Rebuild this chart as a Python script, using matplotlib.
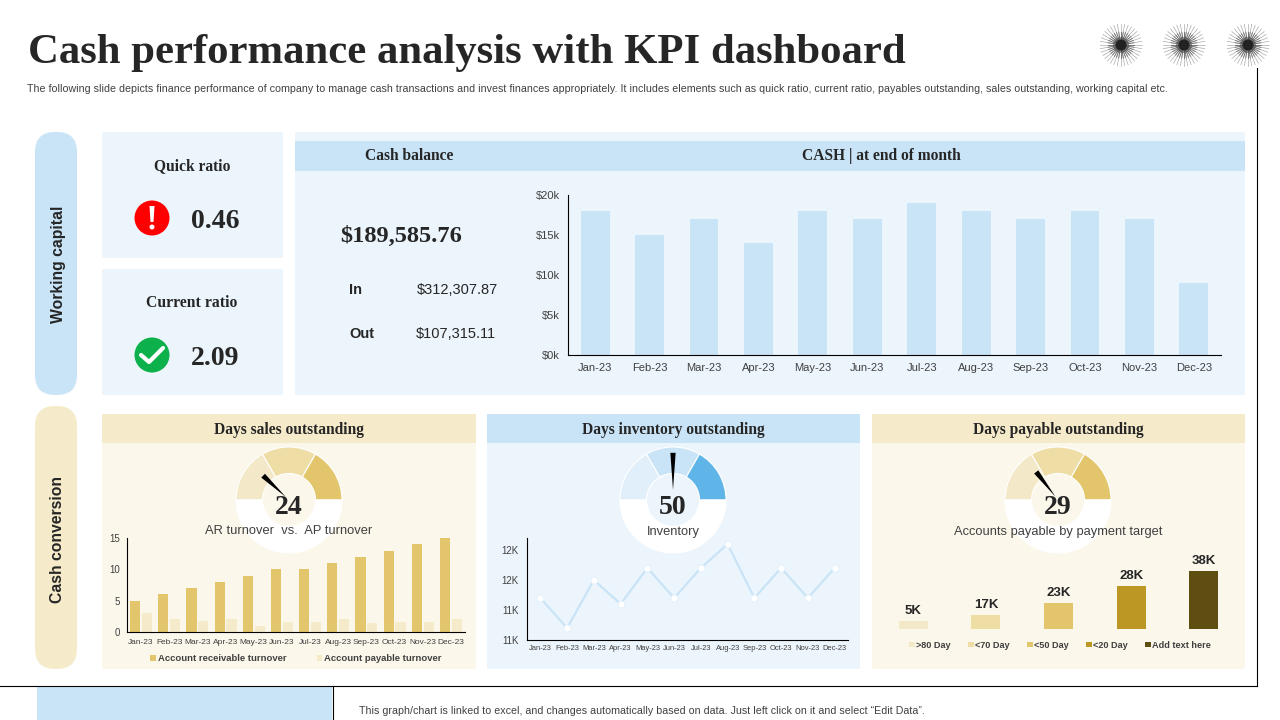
import numpy as np
import matplotlib
matplotlib.use("Agg")
from matplotlib import pyplot as plt
from matplotlib.patches import FancyBboxPatch, Rectangle, Circle, Polygon

SERIF = "Liberation Serif"
SANS = "Liberation Sans"
plt.rcParams["font.family"] = SANS

# data
months = ["Jan-23", "Feb-23", "Mar-23", "Apr-23", "May-23", "Jun-23",
          "Jul-23", "Aug-23", "Sep-23", "Oct-23", "Nov-23", "Dec-23"]
cash_end_month = [18, 15, 17, 14, 18, 17, 19, 18, 17, 18, 17, 9]
cash_ticks = [0, 5, 10, 15, 20]
cash_tick_labels = ["$0k", "$5k", "$10k", "$15k", "$20k"]
ar_turnover = [5, 6, 7, 8, 9, 10, 10, 11, 12, 13, 14, 15]
ap_turnover = [3, 2, 1.8, 2, 1, 1.6, 1.6, 2, 1.4, 1.6, 1.6, 2]
inventory = [11.2, 10.7, 11.5, 11.1, 11.7, 11.2, 11.7, 12.1, 11.2, 11.7, 11.2, 11.7]
inventory_ticks = [10.5, 11, 11.5, 12]
inventory_tick_labels = ["11K", "11K", "12K", "12K"]
payment_targets = [">80 Day", "<70 Day", "<50 Day", "<20 Day", "Add text here"]
payment_heights = [5, 9, 17, 28, 38]
payment_labels = ["5K", "17K", "23K", "28K", "38K"]
gauge_values = [24, 50, 29]
gauge_shares = [1, 1, 1, 3]

# colours
BLUE_PANEL = "#ECF5FC"
BLUE_HEAD = "#C9E4F7"
CREAM_PANEL = "#FCF7EB"
CREAM_HEAD = "#F5EBCB"
GOLD = "#E3C56C"
INK = "#262626"
payment_colors = ["#F3E9C8", "#EFDDA6", "#E3C56C", "#BC9724", "#5F4E12"]

fig = plt.figure(figsize=(12.8, 7.2), dpi=100, facecolor="white")


def px_axes(x0, y0, x1, y1, z=1):
    # axes from pixel box, y counted from the top
    ax = fig.add_axes([x0 / 1280, 1 - y1 / 720, (x1 - x0) / 1280, (y1 - y0) / 720], zorder=z)
    ax.patch.set_alpha(0)
    return ax


def label(x, y, s, size, family=SANS, weight="normal", color=INK, ha="center", rotation=0):
    fig.text(x / 1280, 1 - (y + 1.5) / 720, s, fontsize=size, family=family, weight=weight,
             color=color, ha=ha, va="center", rotation=rotation, zorder=10)


bg = px_axes(0, 0, 1280, 720, z=0)
bg.set_xlim(0, 1280)
bg.set_ylim(720, 0)
bg.axis("off")


def box(x0, y0, x1, y1, color, rounding=2):
    bg.add_patch(FancyBboxPatch((x0 + rounding, y0 + rounding), x1 - x0 - 2 * rounding, y1 - y0 - 2 * rounding,
                                boxstyle=f"round,pad={rounding},rounding_size={rounding}",
                                fc=color, ec="none"))


# title
label(28, 52, "Cash performance analysis with KPI dashboard", 30.8, SERIF, "bold", ha="left")
label(27, 87, "The following slide depicts finance performance of company to manage cash transactions and invest "
      "finances appropriately. It includes elements such as quick ratio, current ratio, payables outstanding, "
      "sales outstanding, working capital etc.", 7.65, color="#404040", ha="left")

# bursts top right
for cx in [1121, 1184, 1248]:
    for a in np.linspace(0, 2 * np.pi, 36, endpoint=False):
        c, s = np.cos(a), np.sin(a)
        bg.plot([cx + 4 * c, cx + 21 * c], [45 + 4 * s, 45 + 21 * s], color="#666666", lw=0.5, alpha=0.55)
        bg.plot([cx + 4 * c, cx + 13 * c], [45 + 4 * s, 45 + 13 * s], color="#444444", lw=0.7, alpha=0.6)
    bg.add_patch(Circle((cx, 45), 8, fc="#444444", ec="none", alpha=0.5, zorder=3))
    bg.add_patch(Circle((cx, 45), 5.5, fc="#222222", ec="none", zorder=3))

# page lines and footer
bg.plot([1257, 1257], [68, 686], color="black", lw=0.8)
bg.plot([0, 1257], [686, 686], color="black", lw=0.8)
bg.add_patch(Rectangle((37, 686), 295, 34, fc=BLUE_HEAD, ec="none"))
bg.plot([332.5, 332.5], [686, 720], color="black", lw=0.8)
label(359, 709, "This graph/chart is linked to excel, and changes automatically based on data. "
      "Just left click on it and select \u201cEdit Data\u201d.", 7.65, color="#404040", ha="left")

# side pills
box(35, 132, 77, 395, BLUE_HEAD, rounding=20)
box(35, 406, 77, 669, CREAM_HEAD, rounding=20)
label(58, 263, "Working capital", 11.3, weight="bold", rotation=90)
label(58, 538, "Cash conversion", 11.3, weight="bold", rotation=90)

# ratio cards
box(102, 132, 283, 258, BLUE_PANEL)
box(102, 269, 283, 395, BLUE_PANEL)
label(192, 165, "Quick ratio", 11.2, SERIF, "bold")
label(215, 220, "0.46", 20, SERIF, "bold")
label(192, 302, "Current ratio", 11.3, SERIF, "bold")
label(215, 357, "2.09", 20, SERIF, "bold")
bg.add_patch(Circle((152, 218), 17.5, fc="#FE0000", ec="none"))
bg.add_patch(Polygon([[149.5, 206], [154.5, 206], [153.5, 222], [150.5, 222]], fc="white", ec="none"))
bg.add_patch(Circle((152, 227), 2.5, fc="white", ec="none"))
bg.add_patch(Circle((152, 355), 17.5, fc="#0DB14B", ec="none"))
bg.plot([141, 149, 163], [355, 362, 348], color="white", lw=3, solid_capstyle="round", solid_joinstyle="round")

# cash panel
box(295, 132, 1245, 395, BLUE_PANEL)
bg.add_patch(Rectangle((295, 141), 950, 30, fc=BLUE_HEAD, ec="none"))
label(409, 155, "Cash balance", 11.2, SERIF, "bold")
label(881, 155, "CASH | at end of month", 11.2, SERIF, "bold")
label(401, 235, "$189,585.76", 17.6, SERIF, "bold")
label(349, 288, "In", 10.5, weight="bold", ha="left")
label(349, 333, "Out", 10.5, weight="bold", ha="left")
label(417, 288, "$312,307.87", 10.5, ha="left")
label(416, 333, "$107,315.11", 10.5, ha="left")

ax = px_axes(568, 195, 1221, 355, z=2)
ax.bar(range(12), cash_end_month, width=0.53, color=BLUE_HEAD)
ax.set_xlim(-0.5, 11.5)
ax.set_ylim(0, 20)
ax.set_yticks(cash_ticks, cash_tick_labels)
ax.set_xticks(range(12), months)
ax.tick_params(length=0, labelsize=8, labelcolor="#404040", pad=6)
ax.spines[["top", "right"]].set_visible(False)

# bottom panels
bottom = [(102, 476, CREAM_PANEL, CREAM_HEAD, "Days sales outstanding", 289),
          (487, 860, BLUE_PANEL, BLUE_HEAD, "Days inventory outstanding", 673),
          (872, 1245, CREAM_PANEL, CREAM_HEAD, "Days payable outstanding", 1058)]
for x0, x1, panel, head, name, cx in bottom:
    box(x0, 414, x1, 669, panel)
    bg.add_patch(Rectangle((x0, 414), x1 - x0, 29, fc=head, ec="none"))
    label(cx, 428, name, 11.2, SERIF, "bold")

# gauges
gauge_colors = [["#F3E9C8", "#EFDDA6", GOLD, "white"],
                ["#E1EFFA", BLUE_HEAD, "#5FB4E8", "white"],
                ["#F3E9C8", "#EFDDA6", GOLD, "white"]]
needle_reach = [0.67, 0.89, 0.67]
needle_base = [0.08, 0.19, 0.08]
for cx, val, cols, reach, base in zip([289, 673, 1058], gauge_values, gauge_colors, needle_reach, needle_base):
    g = px_axes(cx - 53, 447, cx + 53, 553, z=1)
    g.pie(gauge_shares, colors=cols, radius=1, startangle=180, counterclock=False,
          wedgeprops=dict(width=0.5, edgecolor="white", linewidth=0.8))
    g.set_xlim(-1, 1)
    g.set_ylim(-1, 1)
    a = np.pi * (1 - val / 100)
    d = np.array([np.cos(a), np.sin(a)])
    n = np.array([-d[1], d[0]])
    g.add_patch(Polygon([d * base, d * reach + n * 0.05, d * reach - n * 0.05], fc="black", ec="none", zorder=5))
    label(cx, 506, str(val), 20, SERIF, "bold")

label(289, 530, "AR turnover  vs.  AP turnover", 9.3, color="#404040")
label(673, 530, "Inventory", 9.3, color="#404040")
label(1058, 530, "Accounts payable by payment target", 9.3, color="#404040")

# AR vs AP
ax = px_axes(127, 538, 465, 632, z=2)
xs = np.arange(12)
ax.bar(xs - 0.21, ar_turnover, width=0.36, color=GOLD, label="Account receivable turnover")
ax.bar(xs + 0.21, ap_turnover, width=0.36, color="#F5EBCB", label="Account payable turnover")
ax.set_xlim(-0.5, 11.5)
ax.set_ylim(0, 15)
ax.set_yticks([0, 5, 10, 15])
ax.set_xticks(xs, months)
ax.tick_params(length=0, labelcolor="#404040")
ax.tick_params(axis="x", labelsize=6, pad=5)
ax.tick_params(axis="y", labelsize=7, pad=5)
ax.spines[["top", "right"]].set_visible(False)
ax.legend(loc="upper center", bbox_to_anchor=(0.5, -0.235), ncol=2, frameon=False,
          prop=dict(size=6.8, weight="bold"),
          handlelength=0.6, handleheight=0.6, handletextpad=0.2, columnspacing=3.2,
          labelcolor="#404040", borderaxespad=0, borderpad=0)

# inventory line
ax = px_axes(527, 538, 848, 640, z=2)
ax.plot(xs, inventory, color=BLUE_HEAD, lw=1.6, marker="o", ms=5, mfc="white", mec="#E3F0FA", mew=0.6)
ax.set_xlim(-0.5, 11.5)
ax.set_ylim(10.5, 12.2)
ax.set_yticks(inventory_ticks, inventory_tick_labels)
ax.set_xticks(xs, months)
ax.tick_params(length=0, labelcolor="#404040")
ax.tick_params(axis="x", labelsize=5.4, pad=3.5)
ax.tick_params(axis="y", labelsize=7, pad=6)
ax.spines[["top", "right"]].set_visible(False)

# payment target bars
ax = px_axes(877, 560, 1240, 629, z=2)
bars = ax.bar(range(5), payment_heights, width=0.4, color=payment_colors)
for b, name in zip(bars, payment_targets):
    b.set_label(name)
ax.bar_label(bars, labels=payment_labels, padding=3, fontsize=9.5, weight="bold", color=INK)
ax.set_xlim(-0.5, 4.5)
ax.set_ylim(0, 45)
ax.axis("off")
ax.legend(loc="upper center", bbox_to_anchor=(0.505, -0.17), ncol=5, frameon=False,
          prop=dict(size=6.6, weight="bold"),
          handlelength=0.6, handleheight=0.6, handletextpad=0.15, columnspacing=1.9,
          labelcolor="#404040", borderaxespad=0, borderpad=0)

fig.savefig("out.png", dpi=100)
